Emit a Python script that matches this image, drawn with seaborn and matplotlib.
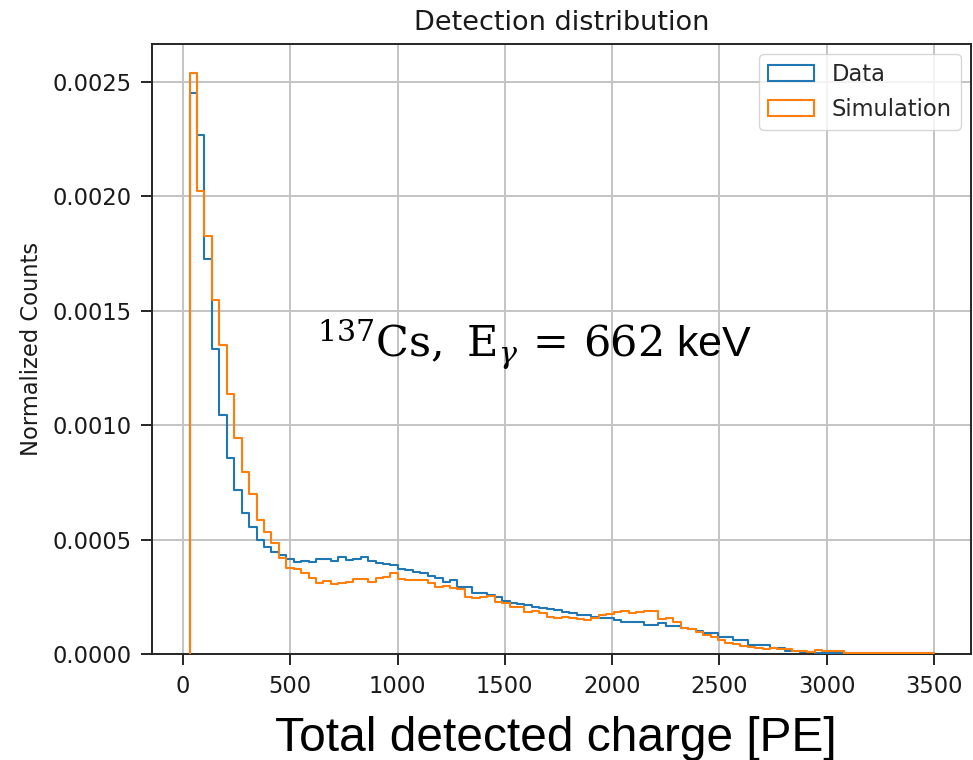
import numpy as np
import pandas as pd
import matplotlib
matplotlib.use("Agg")
import matplotlib.pyplot as plt
import seaborn as sns
from matplotlib.patches import Patch

# ---------------- data ----------------
bin_low = 30
bin_high = 3500
n_bins = 100

data_density = [
    0.002452, 0.002267, 0.001726, 0.001332, 0.001043, 0.000858, 0.000716, 0.000617, 0.000556, 0.000500,
    0.000466, 0.000446, 0.000432, 0.000417, 0.000403, 0.000406, 0.000400, 0.000413, 0.000416, 0.000406,
    0.000422, 0.000410, 0.000414, 0.000423, 0.000407, 0.000398, 0.000393, 0.000387, 0.000371, 0.000368,
    0.000359, 0.000352, 0.000340, 0.000332, 0.000316, 0.000323, 0.000294, 0.000294, 0.000268, 0.000268,
    0.000257, 0.000247, 0.000233, 0.000221, 0.000217, 0.000214, 0.000206, 0.000199, 0.000195, 0.000192,
    0.000182, 0.000180, 0.000170, 0.000170, 0.000163, 0.000156, 0.000156, 0.000148, 0.000138, 0.000138,
    0.000141, 0.000127, 0.000127, 0.000134, 0.000124, 0.000124, 0.000112, 0.000110, 0.000100, 0.000093,
    0.000093, 0.000075, 0.000075, 0.000061, 0.000061, 0.000039, 0.000039, 0.000039, 0.000025, 0.000025,
    0.000015, 0.000012, 0.000010, 0.000008, 0.000006, 0.000005, 0.000004, 0.000004, 0.000004, 0.000004,
    0.000003, 0.000003, 0.000003, 0.000003, 0.000003, 0.000003, 0.000003, 0.000003, 0.000003, 0.000003,
]

sim_density = [
    0.002538, 0.002024, 0.001828, 0.001545, 0.001348, 0.001137, 0.000944, 0.000793, 0.000698, 0.000585,
    0.000534, 0.000483, 0.000420, 0.000374, 0.000372, 0.000352, 0.000330, 0.000308, 0.000318, 0.000304,
    0.000311, 0.000316, 0.000327, 0.000326, 0.000313, 0.000333, 0.000337, 0.000352, 0.000327, 0.000323,
    0.000323, 0.000325, 0.000308, 0.000294, 0.000297, 0.000287, 0.000286, 0.000250, 0.000243, 0.000250,
    0.000252, 0.000228, 0.000221, 0.000204, 0.000206, 0.000185, 0.000188, 0.000180, 0.000163, 0.000158,
    0.000162, 0.000158, 0.000152, 0.000150, 0.000158, 0.000170, 0.000173, 0.000182, 0.000186, 0.000177,
    0.000182, 0.000190, 0.000186, 0.000153, 0.000158, 0.000141, 0.000113, 0.000111, 0.000097, 0.000083,
    0.000075, 0.000061, 0.000049, 0.000044, 0.000035, 0.000032, 0.000025, 0.000021, 0.000025, 0.000022,
    0.000020, 0.000015, 0.000014, 0.000008, 0.000017, 0.000013, 0.000013, 0.000012, 0.000006, 0.000005,
    0.000005, 0.000005, 0.000005, 0.000005, 0.000005, 0.000005, 0.000005, 0.000005, 0.000005, 0.000005,
]

series_names = ["Data", "Simulation"]
series_colors = ["#1f77b4", "#ff7f0e"]
title_text = "Detection distribution"
x_label = "Total detected charge [PE]"
y_label = "Normalized Counts"
annotation = r"$^{137}\mathrm{Cs},\ \mathrm{E}_{\gamma}\,=\,662$ keV"

# ---------------- figure ----------------
sns.set_theme(style="white")
plt.rcParams["font.family"] = ["DejaVu Sans"]
plt.rcParams["mathtext.fontset"] = "dejavuserif"

fig = plt.figure(figsize=(9.73, 7.6), dpi=100)
ax = fig.add_axes([152.3 / 973, 1 - 654 / 760, (971 - 152.3) / 973, (654 - 44) / 760])

# histogram edges; a very narrow empty bin in front so the step outline rises from zero
edges = np.linspace(bin_low, bin_high, n_bins + 1)
centers = (edges[:-1] + edges[1:]) / 2
plot_edges = [bin_low - 0.01] + list(edges)

for name, vals, col in zip(series_names, [data_density, sim_density], series_colors):
    df = pd.DataFrame({"charge": [bin_low - 0.005] + list(centers),
                       "density": [0.0] + list(vals)})
    sns.histplot(data=df, x="charge", weights="density", bins=plot_edges,
                 element="step", fill=False, color=col, linewidth=1.5, ax=ax, zorder=3)

ax.set_ylim(bottom=0)
ax.grid(True, color="#c4c4c4", linewidth=1.4)
ax.set_axisbelow(True)
for s in ax.spines.values():
    s.set_color("#262626")
    s.set_linewidth(1.4)
ax.tick_params(axis="both", labelsize=16.3, length=8, width=1.4, color="#262626",
               labelcolor="#1a1a1a", bottom=True, left=True, pad=7)

ax.set_title(title_text, fontsize=19.5, pad=10, color="#1a1a1a")
ax.set_ylabel(y_label, fontsize=16.3, color="#1a1a1a")
ax.yaxis.set_label_coords(-0.134, 0.5)
ax.set_xlabel(x_label, fontsize=34.5, family="Liberation Sans", color="black")
ax.xaxis.set_label_coords(0.493, -0.101)

ax.text(0.201, 0.487, annotation, transform=ax.transAxes, fontsize=31,
        family="Liberation Sans", ha="left", va="baseline", color="black")

handles = [Patch(facecolor="none", edgecolor=c, linewidth=1.5, label=n)
           for n, c in zip(series_names, series_colors)]
ax.legend(handles=handles, loc="upper right", fontsize=16.3, framealpha=0.8,
          edgecolor="#cccccc", fancybox=True, borderaxespad=0.45, handlelength=2.0)

fig.savefig("out.png", dpi=100)
